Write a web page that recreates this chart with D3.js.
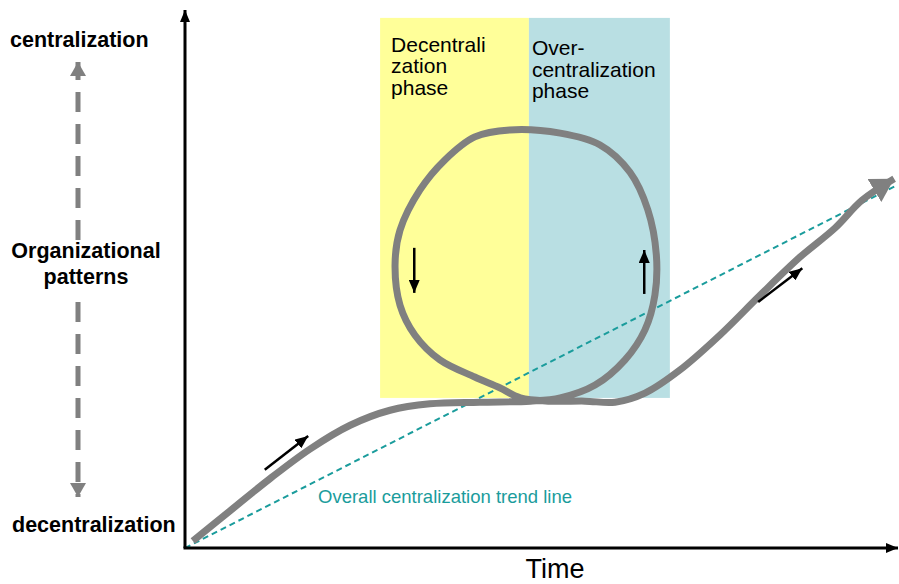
<!DOCTYPE html>
<html><head><meta charset="utf-8">
<script src="https://cdn.jsdelivr.net/npm/d3@7"></script>
<style>body{margin:0;background:#fff}svg{display:block;font-family:Arial,"Liberation Sans",sans-serif}</style>
</head><body><svg id="c" width="899" height="584"></svg>
<script>
// Data (time units 0-100, pattern units 0-100)
const curveT = [1.1,6.3,11.9,17.6,23.2,28.8,34.4,41.4,48.5,52.7,57.6,61.8,64.6,66.0,66.2,65.0,62.5,58.3,52.7,45.6,40.7,36.5,33.0,30.2,29.5,30.2,32.3,35.8,40.7,44.2,47.1,51.3,56.2,60.4,64.6,69.5,75.1,80.8,86.4,91.3,95.1,99.6];
const curveP = [1.3,6.9,12.9,18.5,22.9,25.7,26.9,27.2,27.4,28.0,30.4,35.1,40.7,47.2,54.7,63.1,70.1,75.2,77.4,78.0,76.7,72.4,66.8,59.3,52.8,45.3,39.7,35.1,31.9,29.9,28.0,27.4,27.4,27.2,28.9,33.2,39.7,47.2,54.3,59.7,64.9,68.9];
const trendT = [0, 100];
const trendP = [0, 67.7];
const phaseNames = [["Decentrali","zation","phase"],["Over-","centralization","phase"]];
const phaseStart = [27.4, 48.3];
const phaseEnd = [48.3, 68.1];
const phaseLow = 28.0, phaseHigh = 98.9;
const phaseColors = ["#ffff99","#b9dfe3"];
const dirArrows = [[11.2,14.6,17.3,20.9],[80.5,45.9,86.7,52.2],[32.2,56.0,32.2,47.6],[64.5,47.4,64.5,55.6]];
const leftLabels = ["centralization","Organizational","patterns","decentralization"];
const trendLabel = "Overall centralization trend line";
const xTitle = "Time";

const svg = d3.select("#c");
const x = d3.scaleLinear().domain([0,100]).range([185,897]);
const y = d3.scaleLinear().domain([0,100]).range([548,12]);
const defs = svg.append("defs");
function marker(id, color, w, h){
  defs.append("marker").attr("id",id).attr("viewBox",`0 0 ${w} ${h}`).attr("refX",w).attr("refY",h/2)
    .attr("markerWidth",w).attr("markerHeight",h).attr("markerUnits","userSpaceOnUse").attr("orient","auto")
    .append("path").attr("d",`M0,0L${w},${h/2}L0,${h}Z`).attr("fill",color);
}
marker("ax","#000",12,10);
marker("sm","#000",13,11);
marker("big","#808080",23,27);
marker("lg","#808080",14,16);

// phases
phaseNames.forEach((lines,i)=>{
  const tx = x(phaseStart[i])+(i===0?11:3);
  svg.append("rect").attr("x",x(phaseStart[i])).attr("y",y(phaseHigh))
    .attr("width",x(phaseEnd[i])-x(phaseStart[i])).attr("height",y(phaseLow)-y(phaseHigh)).attr("fill",phaseColors[i]);
  lines.forEach((l,j)=>svg.append("text").attr("x",tx).attr("y",(i===0?52:55)+j*(i===0?21.3:21.6))
    .attr("font-size",21).attr("fill","#000").text(l));
});

// trend line
svg.append("line").attr("x1",x(trendT[0])).attr("y1",y(trendP[0])).attr("x2",x(trendT[1])).attr("y2",y(trendP[1]))
  .attr("stroke","#1a9c9c").attr("stroke-width",2).attr("stroke-dasharray","6,4");
svg.append("text").attr("x",318).attr("y",503).attr("font-size",18.5).attr("fill","#1a9c9c").text(trendLabel);

// curve
const pts = curveT.map((t,i)=>[x(t),y(curveP[i])]);
svg.append("path").attr("d",d3.line().curve(d3.curveCatmullRom.alpha(0.5))(pts))
  .attr("fill","none").attr("stroke","#808080").attr("stroke-width",7).attr("stroke-linejoin","round")
  .attr("marker-end","url(#big)");

// direction arrows
dirArrows.forEach(a=>{
  svg.append("line").attr("x1",x(a[0])).attr("y1",y(a[1])).attr("x2",x(a[2])).attr("y2",y(a[3]))
    .attr("stroke","#000").attr("stroke-width",2.5).attr("marker-end","url(#sm)");
});

// axes
svg.append("line").attr("x1",x(0)).attr("y1",y(0)).attr("x2",x(0)).attr("y2",y(100)-2)
  .attr("stroke","#000").attr("stroke-width",3).attr("marker-end","url(#ax)");
svg.append("line").attr("x1",x(0)-1.5).attr("y1",y(0)).attr("x2",x(100)+1).attr("y2",y(0))
  .attr("stroke","#000").attr("stroke-width",3).attr("marker-end","url(#ax)");
svg.append("text").attr("x",555).attr("y",578).attr("text-anchor","middle").attr("font-size",27).text(xTitle);

// left labels
const lf = 21.5;
svg.append("text").attr("x",10).attr("y",47).attr("font-size",lf).attr("font-weight","bold").text(leftLabels[0]);
svg.append("text").attr("x",86).attr("y",258).attr("font-size",lf).attr("font-weight","bold").attr("text-anchor","middle").text(leftLabels[1]);
svg.append("text").attr("x",86).attr("y",284).attr("font-size",lf).attr("font-weight","bold").attr("text-anchor","middle").text(leftLabels[2]);
svg.append("text").attr("x",12).attr("y",532).attr("font-size",lf).attr("font-weight","bold").text(leftLabels[3]);

// dashed double arrow
svg.append("line").attr("x1",78).attr("y1",240).attr("x2",78).attr("y2",62)
  .attr("stroke","#808080").attr("stroke-width",5).attr("stroke-dasharray","20,12").attr("marker-end","url(#lg)");
svg.append("line").attr("x1",78).attr("y1",302).attr("x2",78).attr("y2",497)
  .attr("stroke","#808080").attr("stroke-width",5).attr("stroke-dasharray","20,12").attr("marker-end","url(#lg)");
</script></body></html>
